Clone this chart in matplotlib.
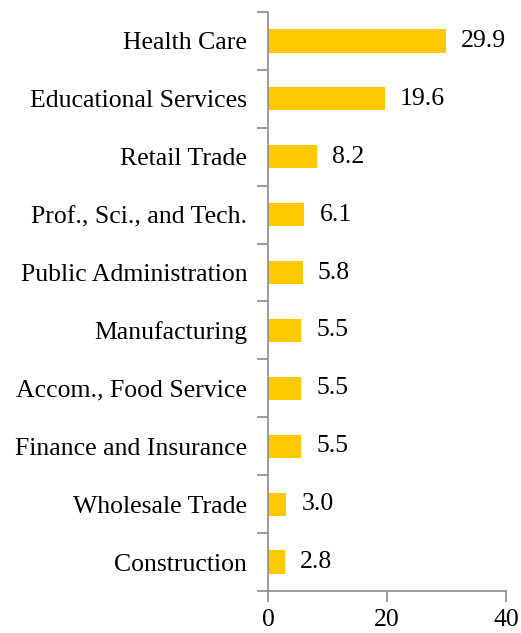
import matplotlib
matplotlib.use("Agg")
import matplotlib.pyplot as plt
from matplotlib.ticker import FixedLocator, NullFormatter

industries = [
    "Health Care",
    "Educational Services",
    "Retail Trade",
    "Prof., Sci., and Tech.",
    "Public Administration",
    "Manufacturing",
    "Accom., Food Service",
    "Finance and Insurance",
    "Wholesale Trade",
    "Construction",
]
shares = [29.9, 19.6, 8.2, 6.1, 5.8, 5.5, 5.5, 5.5, 3.0, 2.8]
x_ticks = [0, 20, 40]

plt.rcParams["font.family"] = ["Liberation Serif", "DejaVu Serif"]
axis_grey = "#8c8c8c"
bar_gold = "#ffc800"
fs = 18.5

fig = plt.figure(figsize=(5.21, 6.33), dpi=100)
ax = fig.add_axes([0.5144, 0.0664, 0.4568, 0.9146])

ypos = list(range(len(industries)))[::-1]
ax.barh(ypos, shares, height=0.4, color=bar_gold)

for y, v in zip(ypos, shares):
    ax.text(v + 2.6, y, f"{v:.1f}", va="center", ha="left", fontsize=fs)

ax.set_xlim(0, 40)
ax.set_ylim(-0.5, len(industries) - 0.5)
ax.set_xticks(x_ticks)
ax.set_xticklabels([str(t) for t in x_ticks], fontsize=fs)

ax.set_yticks(ypos)
ax.set_yticklabels(industries, fontsize=fs)
ax.tick_params(axis="y", which="major", length=0, pad=15)
ax.yaxis.set_minor_locator(FixedLocator([i + 0.5 for i in range(-1, len(industries))]))
ax.yaxis.set_minor_formatter(NullFormatter())
ax.tick_params(axis="y", which="minor", length=8, width=1.2, color=axis_grey, direction="out")
ax.tick_params(axis="x", length=8, width=1.2, color=axis_grey, direction="out", pad=5)

for side in ["top", "right"]:
    ax.spines[side].set_visible(False)
for side in ["left", "bottom"]:
    ax.spines[side].set_color(axis_grey)
    ax.spines[side].set_linewidth(1.2)

fig.savefig("out.png", dpi=100)
